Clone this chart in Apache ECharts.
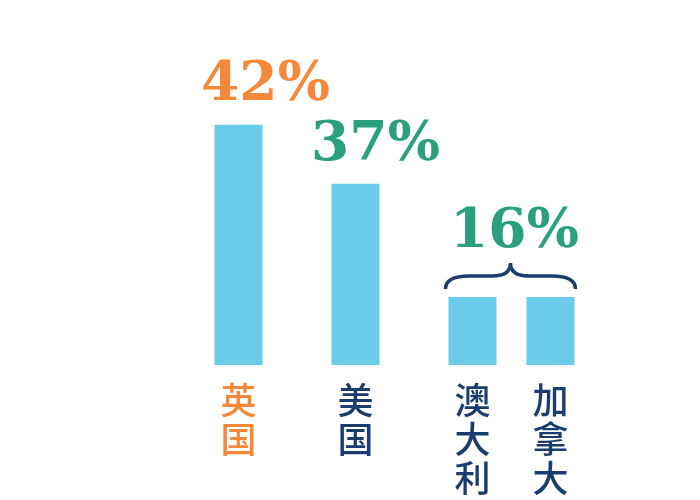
<!DOCTYPE html>
<html>
<head>
<meta charset="utf-8">
<script src="https://cdn.jsdelivr.net/npm/echarts@6/dist/echarts.min.js"></script>
<style>
html, body { margin: 0; padding: 0; background: #fff; }
#main { width: 700px; height: 500px; }
</style>
</head>
<body>
<div id="main"></div>
<script>
// 国家 / 柱高 / 在轴上的位置 (空位用来拉开间距)
var countries = ['英国', '美国', '澳大利亚', '加拿大'];
var barHeights = [42, 31.7, 11.9, 11.9];
var slots = [0, 3, 6, 8];
var nameColors = ['#f5893a', '#1b3d6d', '#1b3d6d', '#1b3d6d'];

// 百分比标注
var pctLabels = ['42%', '37%', '16%'];
var pctColors = ['#f5893a', '#2aa07f', '#2aa07f'];
var pctOffsets = [[27, 2], [20, 4]];
// 16% 用括号包住 澳大利亚 和 加拿大
var groupPair = [2, 3];

var axisData = [];
for (var i = 0; i <= slots[slots.length - 1]; i++) axisData.push('');
var barData = [];
for (var i = 0; i < countries.length; i++) {
    axisData[slots[i]] = { value: countries[i], textStyle: { color: nameColors[i] } };
}
for (var i = 0; i < axisData.length; i++) barData.push('-');
for (var i = 0; i < countries.length; i++) {
    var item = { value: barHeights[i] };
    if (i < pctOffsets.length) {
        item.label = {
            show: true,
            formatter: pctLabels[i],
            color: pctColors[i],
            offset: pctOffsets[i]
        };
    }
    barData[slots[i]] = item;
}

var myChart = echarts.init(document.getElementById('main'));

var option = {
    backgroundColor: '#fff',
    animation: false,
    grid: {
        left: 219,
        right: 130,
        top: 79,
        bottom: 135,
        outerBoundsMode: 'none'
    },
    xAxis: {
        type: 'category',
        data: axisData,
        axisLine: { show: false },
        axisTick: { show: false },
        axisLabel: {
            interval: 0,
            margin: 16,
            fontFamily: 'Noto Sans CJK SC',
            fontWeight: 500,
            fontSize: 36,
            lineHeight: 39,
            verticalAlign: 'top',
            formatter: function (v) { return v.split('').join('\n'); }
        }
    },
    yAxis: {
        type: 'value',
        min: 0,
        max: 50,
        show: false
    },
    series: [{
        type: 'bar',
        barWidth: 48,
        clip: false,
        itemStyle: { color: '#6bcbeb' },
        label: {
            show: false,
            position: 'top',
            distance: 14,
            fontFamily: 'DejaVu Serif',
            fontWeight: 'bold',
            fontSize: 55
        },
        data: barData
    }, {
        type: 'custom',
        clip: false,
        renderItem: function (params, api) {
            var a = api.coord([api.value(0), api.value(2)]);
            var b = api.coord([api.value(1), api.value(2)]);
            var L = a[0] - 27, R = b[0] + 25;
            var C = (L + R) / 2;
            var B = a[1] - 8, M = B - 13, T = B - 26;
            var r = 12;
            return {
                type: 'group',
                children: [{
                    type: 'path',
                    shape: {
                        pathData: 'M' + L + ',' + B +
                            ' Q' + L + ',' + M + ' ' + (L + r * 2) + ',' + M +
                            ' L' + (C - r * 1.5) + ',' + M +
                            ' Q' + C + ',' + M + ' ' + C + ',' + T +
                            ' Q' + C + ',' + M + ' ' + (C + r * 1.5) + ',' + M +
                            ' L' + (R - r * 2) + ',' + M +
                            ' Q' + R + ',' + M + ' ' + R + ',' + B
                    },
                    style: { fill: null, stroke: '#1b3d6d', lineWidth: 3.5 }
                }, {
                    type: 'text',
                    x: C + 4,
                    y: T - 3,
                    style: {
                        text: pctLabels[2],
                        fill: pctColors[2],
                        fontFamily: 'DejaVu Serif',
                        fontWeight: 'bold',
                        fontSize: 55,
                        align: 'center',
                        verticalAlign: 'bottom'
                    }
                }]
            };
        },
        data: [[slots[groupPair[0]], slots[groupPair[1]], barHeights[groupPair[0]]]]
    }]
};

myChart.setOption(option);
window.addEventListener('resize', function () {
    myChart.resize();
});
</script>
</body>
</html>
